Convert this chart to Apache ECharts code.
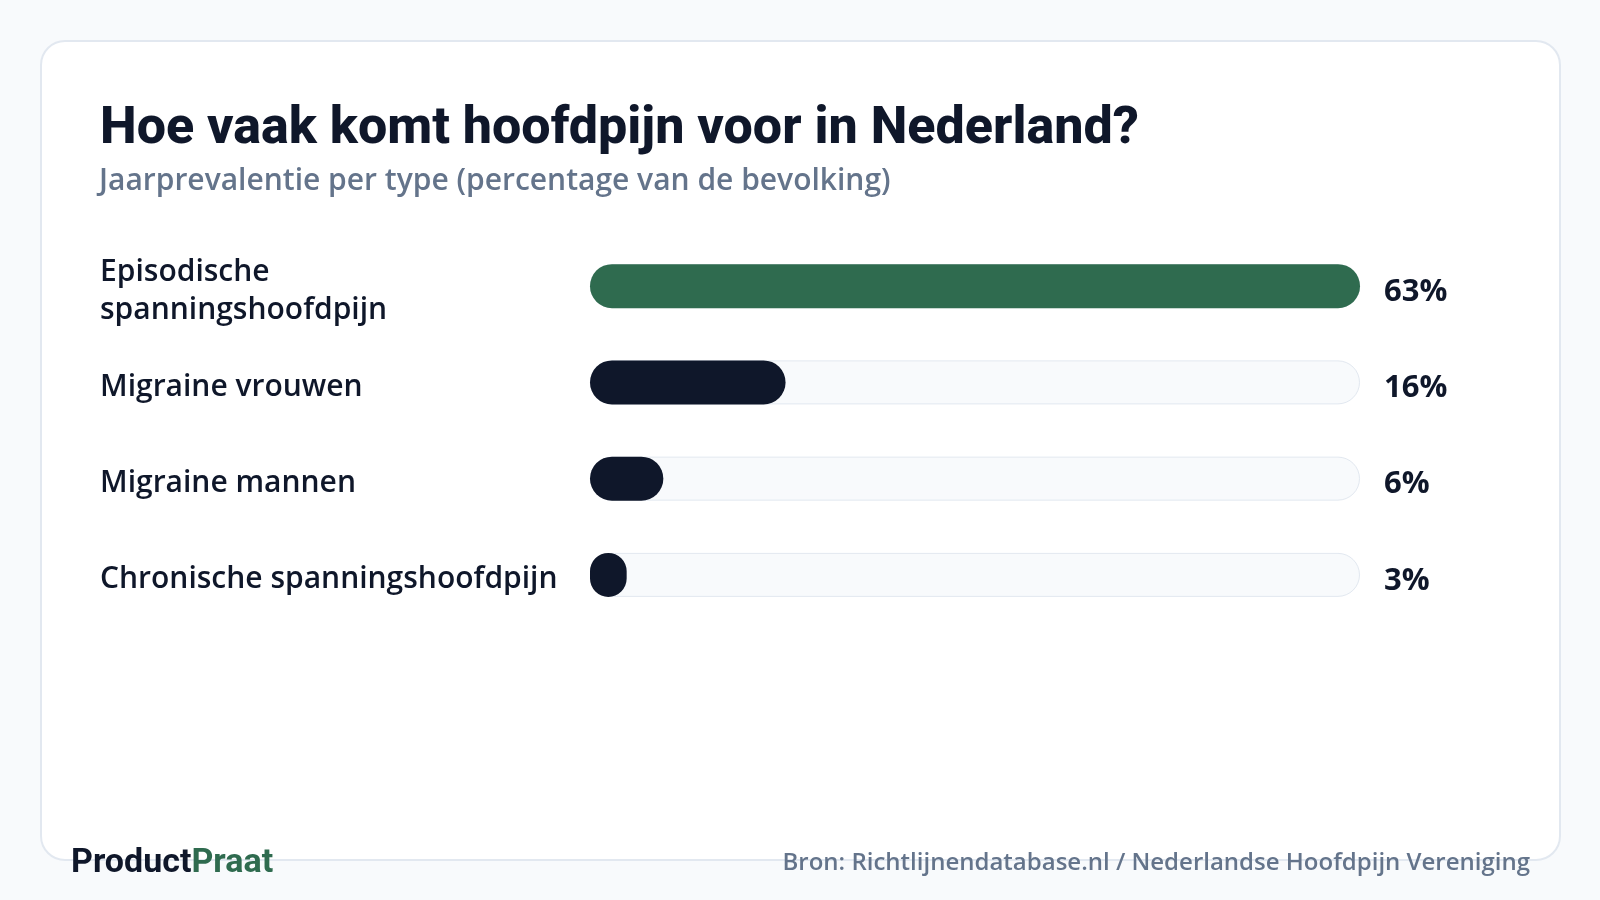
<!DOCTYPE html>
<html>
<head>
<meta charset="utf-8">
<title>Hoofdpijn in Nederland</title>
<script src="https://cdn.jsdelivr.net/npm/echarts@6/dist/echarts.min.js"></script>
<style>
  html, body { margin: 0; padding: 0; background: #f8fafc; }
  #main { width: 1600px; height: 900px; }
</style>
</head>
<body>
<div id="main"></div>
<script>
// data
const categories = ['Episodische spanningshoofdpijn', 'Migraine vrouwen', 'Migraine mannen', 'Chronische spanningshoofdpijn']
const values = [63, 16, 6, 3]
const barColors = ['#2f6b4f', '#0f172a', '#0f172a', '#0f172a']
const axisMax = 63

const chart = echarts.init(document.getElementById('main'))

const option = {
  backgroundColor: '#f8fafc',
  animation: false,
  graphic: [
    // card
    {
      type: 'rect', z: -10,
      shape: { x: 41, y: 41, width: 1519, height: 819, r: 24 },
      style: { fill: '#ffffff', stroke: '#e2e8f0', lineWidth: 2 }
    },
    {
      type: 'text', left: 100, top: 104,
      style: { text: 'Hoe vaak komt hoofdpijn voor in Nederland?', font: '800 52px Roboto', fill: '#0f172a' }
    },
    {
      type: 'text', left: 99, top: 166,
      style: { text: 'Jaarprevalentie per type (percentage van de bevolking)', font: '600 30px "Open Sans"', fill: '#64748b' }
    },
    {
      type: 'text', left: 71, top: 846,
      style: {
        text: '{a|Product}{b|Praat}',
        rich: {
          a: { font: '700 34px Roboto', fill: '#0f172a' },
          b: { font: '700 34px Roboto', fill: '#2f6b4f' }
        }
      }
    },
    {
      type: 'text', right: 70, top: 851,
      style: { text: 'Bron: Richtlijnendatabase.nl / Nederlandse Hoofdpijn Vereniging', font: '600 24px "Open Sans"', fill: '#64748b' }
    }
  ],
  grid: { left: 590, right: 240, top: 238, bottom: 277 },
  xAxis: { type: 'value', min: 0, max: axisMax, show: false },
  yAxis: {
    type: 'category',
    inverse: true,
    data: categories,
    axisLine: { show: false },
    axisTick: { show: false },
    axisLabel: {
      align: 'left',
      margin: 490,
      width: 460,
      overflow: 'break',
      lineHeight: 38,
      fontFamily: 'Open Sans',
      fontWeight: 600,
      fontSize: 30,
      color: '#0f172a',
      formatter: v => '{a|' + v + '}',
      rich: {
        a: { fontFamily: 'Open Sans', fontWeight: 600, fontSize: 30, lineHeight: 38, padding: [10, 0, 0, 0] }
      }
    }
  },
  series: [
    {
      // background track with value label
      type: 'bar',
      data: categories.map(() => axisMax),
      barWidth: 44,
      barGap: '-100%',
      silent: true,
      itemStyle: { color: '#f8fafc', borderColor: '#e2e8f0', borderWidth: 1, borderRadius: 22 },
      label: {
        show: true,
        position: 'right',
        distance: 24,
        offset: [0, 6],
        formatter: p => values[p.dataIndex] + '%',
        fontFamily: 'Open Sans',
        fontWeight: 700,
        fontSize: 31,
        color: '#0f172a'
      }
    },
    {
      type: 'bar',
      data: values.map((v, i) => ({ value: v, itemStyle: { color: barColors[i] } })),
      barWidth: 44,
      barGap: '-100%',
      itemStyle: { borderRadius: 22 }
    }
  ]
}

option && chart.setOption(option)
</script>
</body>
</html>
